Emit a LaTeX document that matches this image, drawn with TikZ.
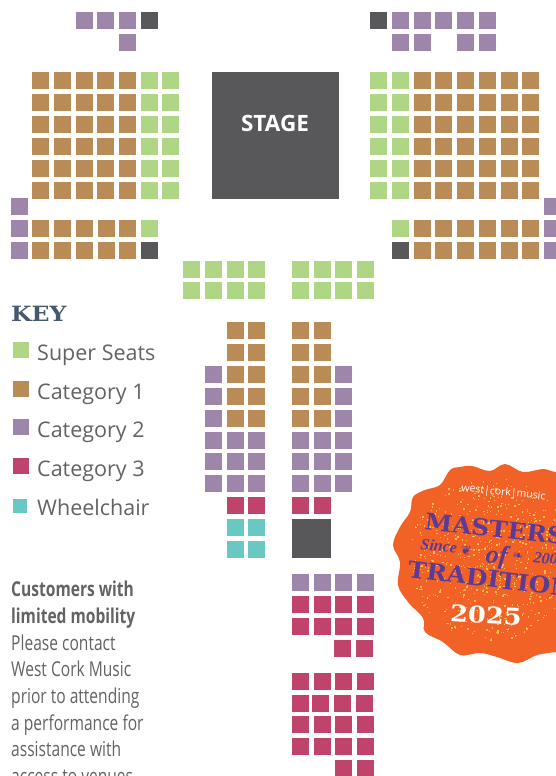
\documentclass[tikz,border=0pt]{standalone}
\usepackage{fontspec}
\setmainfont{Open Sans}
\newfontfamily\narrowfont[FakeStretch=0.76]{Open Sans}
\newfontfamily\slabfont[FakeStretch=1.12]{DejaVu Serif}
\newfontfamily\badgeslab[FakeStretch=1.08]{DejaVu Serif}
\newfontfamily\ornatefont{Liberation Serif}
\newfontfamily\symfont{DejaVu Sans}
\definecolor{cgreen}{HTML}{AFD684}
\definecolor{cbrown}{HTML}{B98C57}
\definecolor{cpurple}{HTML}{9E86AB}
\definecolor{cred}{HTML}{BF436A}
\definecolor{cteal}{HTML}{69C8C2}
\definecolor{cdark}{HTML}{58585A}
\definecolor{corange}{HTML}{F26227}
\definecolor{ctitle}{HTML}{5C3A96}
\definecolor{cspeck}{HTML}{F6BC4C}
\definecolor{ckey}{HTML}{44596E}
\definecolor{ctext}{HTML}{626365}
\tikzset{
  seat/.style={fill=#1,draw=none},
  keytext/.style={anchor=base west,text=ctext,font=\fontsize{21.5}{24}\selectfont,inner sep=0pt},
  badgetext/.style={anchor=base west,inner sep=0pt,text=ctitle},
}
\newcommand{\seatrow}[3]{\foreach \sx in {#3} \fill[seat=#1] (\sx,#2) rectangle ++(17,17);}
\begin{document}
\begin{tikzpicture}[x=1pt,y=-1pt]
\useasboundingbox (0,0) rectangle (556,776);
\clip (0,0) rectangle (556,776);
\fill[white] (0,0) rectangle (556,776);
% top balconies
\seatrow{cpurple}{12}{76,97,119}
\seatrow{cdark}{12}{141,370}
\seatrow{cpurple}{34}{119}
\seatrow{cpurple}{12}{392,414,435,457,479}
\seatrow{cpurple}{34}{392,414,457,479}
% side blocks
\foreach \ry in {72,94,116,138,160,182}{
  \seatrow{cbrown}{\ry}{32,54,76,97,119}
  \seatrow{cgreen}{\ry}{141,162,370,392}
  \seatrow{cbrown}{\ry}{414,435,457,479,501,522}
}
\foreach \ry in {198,220,242}{\seatrow{cpurple}{\ry}{11,544}}
\foreach \ry in {220,242}{
  \seatrow{cbrown}{\ry}{32,54,76,98,119}
  \seatrow{cbrown}{\ry}{414,435,457,479,501,522}
}
\seatrow{cgreen}{220}{141,392}
\seatrow{cdark}{242}{141,392}
\foreach \ry in {261,282}{\seatrow{cgreen}{\ry}{183,205,227,248,292,314,335,357}}
% stage
\node[seat=cdark,anchor=north west,minimum width=127pt,minimum height=127pt,inner sep=0pt] (stage) at (212,72) {};
\node[text=white,font=\fontsize{22.5}{24}\selectfont\bfseries,inner sep=0pt] (stagelabel) at (275,123) {STAGE};
% central block
\foreach \ry in {322,344,366,388,410}{\seatrow{cbrown}{\ry}{227,248,292,314}}
\foreach \ry in {366,388,410,432,453,475}{\seatrow{cpurple}{\ry}{205,335}}
\foreach \ry in {432,453,475}{\seatrow{cpurple}{\ry}{227,248,292,314}}
\seatrow{cred}{497}{227,248,292,314}
\foreach \ry in {519,541}{\seatrow{cteal}{\ry}{227,248}}
\fill[cdark] (292,519) rectangle (331,558);
% back block
\seatrow{cpurple}{574}{292,314,335,357}
\foreach \ry in {596,618,673,716,738}{\seatrow{cred}{\ry}{292,314,335,357}}
\seatrow{cred}{640}{334,356}
\seatrow{cred}{695}{292,312,334,356}
\seatrow{cred}{760}{335,357}
% key
\node[anchor=base west,inner sep=0pt,text=ckey,font=\slabfont\fontsize{21}{22}\selectfont\bfseries] (keytitle) at (11,321) {KEY};
\fill[cgreen] (13,342) rectangle ++(16,16);
\fill[cbrown] (13,381) rectangle ++(16,16);
\fill[cpurple] (13,419) rectangle ++(16,16);
\fill[cred] (13,458) rectangle ++(16,16);
\fill[cteal] (13,499) rectangle ++(14,14);
\node[keytext] (k1) at (37,360) {Super Seats};
\node[keytext] (k2) at (37,399) {Category 1};
\node[keytext] (k3) at (37,437) {Category 2};
\node[keytext] (k4) at (37,476) {Category 3};
\node[keytext] (k5) at (37,515) {Wheelchair};
% note
\node[anchor=north west,inner sep=0pt,align=left,text=ctext,font=\narrowfont\fontsize{20.5}{26.7}\selectfont] (note) at (11,581)
 {{\bfseries Customers with}\\{\bfseries limited mobility}\\Please contact\\West Cork Music\\prior to attending\\a performance for\\assistance with\\access to venues};
% badge
\fill[corange] plot[smooth cycle,tension=0.6] coordinates {
 (450,470)(460,467)(472,466)(490,471)(505,464)(523,472)(543,469)(556,472)(572,470)(595,560)
 (572,650)(556,652)(537,655)(518,663)(497,657)(480,653)(460,655)(443,642)(425,632)(423,618)(408,602)
 (398,585)(400,562)(393,545)(400,527)(410,512)(413,497)(425,490)(440,485)};
\begin{scope}
\pgfmathsetseed{4217}
\foreach \n in {1,...,620}{
  \pgfmathsetmacro{\spang}{rnd*360}
  \pgfmathsetmacro{\sprad}{82*pow(rnd,0.6)}
  \pgfmathsetmacro{\spsz}{0.6+rnd*1.3}
  \fill[cspeck] ({490+\sprad*cos(\spang)},{558+\sprad*sin(\spang)}) rectangle ++(\spsz,\spsz);
}
\end{scope}
\node[badgetext,text=white,rotate=-6,font=\fontsize{10.5}{12}\selectfont] (wcm) at (461,491) {west|cork|music};
\node[badgetext,rotate=-6.5,font=\badgeslab\fontsize{23}{24}\selectfont\bfseries] (masters) at (424,529) {MASTERS};
\node[badgetext,rotate=-7,font=\ornatefont\fontsize{16}{17}\selectfont\bfseries\itshape] (since) at (420,549) {Since};
\node[badgetext,rotate=-7,font=\symfont\fontsize{13}{14}\selectfont] (ornleft) at (460,554) {❦};
\node[badgetext,rotate=-7,font=\ornatefont\fontsize{26}{27}\selectfont\bfseries\itshape] (of) at (485,562) {of};
\node[badgetext,rotate=-7,font=\symfont\fontsize{13}{14}\selectfont] (ornright) at (512,559) {❧};
\node[badgetext,rotate=-7,font=\ornatefont\fontsize{16}{17}\selectfont\bfseries\itshape] (year) at (533,562) {200};
\node[badgetext,rotate=-7,font=\badgeslab\fontsize{23}{24}\selectfont\bfseries] (tradition) at (407,577) {TRADITION};
\node[inner sep=0pt,text=white,rotate=-3,font=\slabfont\fontsize{23}{24}\selectfont\bfseries] (yr) at (486,615) {2025};
\end{tikzpicture}
\end{document}
